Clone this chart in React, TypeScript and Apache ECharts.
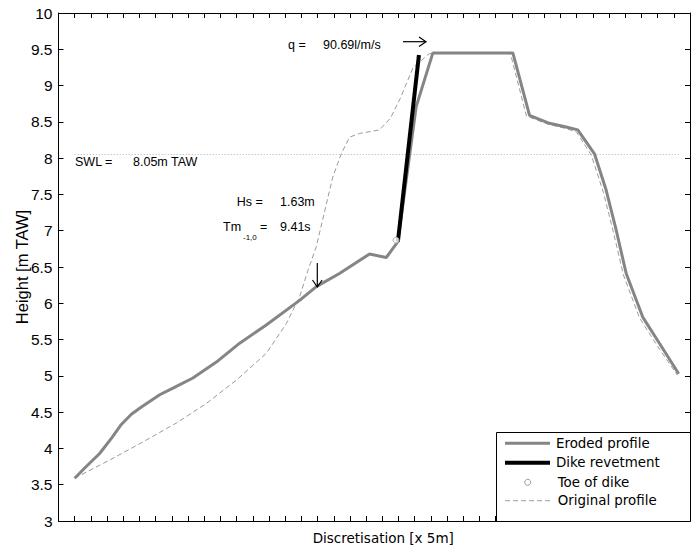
import React, { useEffect, useRef } from "react";
import * as echarts from "echarts";

// Eroded profile [discretisation index, height m TAW]
const erodedProfile: number[][] = [
  [1.0, 3.59], [1.62, 3.73], [2.54, 3.93], [3.3, 4.15], [3.88, 4.33], [4.5, 4.47], [5.12, 4.57],
  [6.25, 4.74], [7.07, 4.83], [8.3, 4.97], [9.75, 5.19], [11.19, 5.45], [12.83, 5.7],
  [14.89, 6.04], [15.92, 6.23], [17.35, 6.41], [19.21, 6.68], [20.24, 6.63], [20.96, 6.85],
  [22.09, 8.71], [23.12, 9.45], [28.06, 9.45], [29.09, 8.59], [30.32, 8.48], [31.35, 8.43],
  [32.07, 8.39], [33.1, 8.06], [33.82, 7.56], [34.44, 7.01], [35.06, 6.41], [36.08, 5.81],
  [37.11, 5.45], [38.3, 5.03],
];

// Original profile
const originalProfile: number[][] = [
  [1.0, 3.59], [3.16, 3.84], [5.22, 4.09], [7.28, 4.35], [9.13, 4.62], [10.98, 4.94],
  [12.83, 5.31], [14.07, 5.72], [14.89, 6.09], [15.4, 6.45], [15.92, 6.78], [16.94, 7.74],
  [17.46, 8.06], [17.98, 8.29], [18.59, 8.34], [19.83, 8.39], [20.5, 8.55], [21.1, 8.82],
  [21.9, 9.25], [22.9, 9.44], [27.91, 9.44], [28.9, 8.58], [30.2, 8.47], [31.31, 8.41],
  [31.99, 8.36], [32.91, 8.04], [33.65, 7.53], [34.27, 6.98], [34.89, 6.39], [35.88, 5.8],
  [36.99, 5.41], [38.22, 5.01],
];

const dikeRevetment: number[][] = [[20.96, 6.85], [22.26, 9.42]];
const toeOfDike: number[][] = [[20.85, 6.87]];

const swlLevel = 8.05;
const swlStartEnd = [1, 38.3];

const xMin = 0;
const xMax = 39;
const xStep = 1;
const yMin = 3;
const yMax = 10;
const yStep = 0.5;

const legendLabels = ["Eroded profile", "Dike revetment", "Toe of dike", "Original profile"];
const swlText = ["SWL =", "8.05m TAW"];
const hsText = ["Hs =", "1.63m"];
const tmText = ["Tm", "-1,0", "=", "9.41s"];
const qText = ["q =", "90.69l/m/s"];

const ANN_FONT = '12.5px "Liberation Sans", Arial, sans-serif';
const LEG_FONT = '13.4px "DejaVu Sans", sans-serif';

function txt(text: string, x: number, y: number, font = ANN_FONT) {
  return {
    type: "text",
    x,
    y,
    z: 100,
    style: { text, font, fill: "#000", textAlign: "left", textVerticalAlign: "middle" },
  };
}

export default function App() {
  const ref = useRef<HTMLDivElement>(null);
  useEffect(() => {
    const chart = echarts.init(ref.current!, null, { renderer: "svg" });
    const axisCommon = {
      type: "value",
      axisLine: { show: true, onZero: false, lineStyle: { color: "#000", width: 1 } },
      axisTick: { show: true, inside: true, length: 5, lineStyle: { color: "#000", width: 1 } },
      splitLine: { show: false },
    };
    const legendX = 496;
    const legendY = 432;
    const rowY = [443.3, 462.7, 482.3, 500.7];
    const option: any = {
      animation: false,
      backgroundColor: "#fff",
      grid: { left: 58.5, right: 5, top: 13, bottom: 28, containLabel: false, outerBoundsMode: "none" },
      xAxis: [
        {
          ...axisCommon,
          position: "bottom",
          min: xMin,
          max: xMax,
          interval: xStep,
          axisLabel: { show: false },
          name: "Discretisation [x 5m]",
          nameLocation: "middle",
          nameGap: 10,
          nameMoveOverlap: false,
          nameTextStyle: {
            fontFamily: "DejaVu Sans",
            fontSize: 13.5,
            color: "#000",
            padding: [0, 0, 0, 18],
          },
        },
        {
          ...axisCommon,
          position: "top",
          min: xMin,
          max: xMax,
          interval: xStep,
          axisLabel: { show: false },
        },
      ],
      yAxis: [
        {
          ...axisCommon,
          position: "left",
          min: yMin,
          max: yMax,
          interval: yStep,
          axisLabel: {
            show: true,
            margin: 6,
            color: "#000",
            fontFamily: "Liberation Sans",
            fontSize: 15.5,
          },
          name: "Height [m TAW]",
          nameLocation: "middle",
          nameGap: 28,
          nameMoveOverlap: false,
          nameTextStyle: { fontFamily: "Liberation Sans", fontSize: 16.5, color: "#000" },
        },
        {
          ...axisCommon,
          position: "right",
          min: yMin,
          max: yMax,
          interval: yStep,
          axisLabel: { show: false },
        },
      ],
      series: [
        {
          name: "SWL",
          type: "line",
          data: [[swlStartEnd[0], swlLevel], [swlStartEnd[1], swlLevel]],
          showSymbol: false,
          lineStyle: { color: "#b0b0b0", width: 1, type: [1, 2] },
          z: 1,
        },
        {
          name: legendLabels[3],
          type: "line",
          data: originalProfile,
          showSymbol: false,
          lineStyle: { color: "#9a9a9a", width: 1, type: [5, 3] },
          z: 2,
        },
        {
          name: legendLabels[0],
          type: "line",
          data: erodedProfile,
          showSymbol: false,
          lineStyle: { color: "#858585", width: 3 },
          z: 3,
        },
        {
          name: legendLabels[1],
          type: "line",
          data: dikeRevetment,
          showSymbol: false,
          lineStyle: { color: "#000", width: 4 },
          z: 4,
        },
        {
          name: legendLabels[2],
          type: "scatter",
          data: toeOfDike,
          symbol: "circle",
          symbolSize: 6,
          itemStyle: { color: "#fff", borderColor: "#999", borderWidth: 1 },
          z: 5,
        },
      ],
      graphic: [
        txt(swlText[0], 75, 161.7),
        txt(swlText[1], 133, 161.7),
        txt(hsText[0], 236.7, 201.7),
        txt(hsText[1], 280, 201.7),
        txt(tmText[0], 223, 226.7),
        txt(tmText[1], 243, 237, '8px "Liberation Sans", Arial, sans-serif'),
        txt(tmText[2], 260, 226.7),
        txt(tmText[3], 280, 226.7),
        txt(qText[0], 288, 45),
        txt(qText[1], 323, 45),
        // q arrow (right)
        {
          type: "polyline",
          z: 100,
          shape: { points: [[403, 41.7], [426, 41.7]] },
          style: { stroke: "#000", lineWidth: 1.2, fill: "none" },
        },
        {
          type: "polyline",
          z: 100,
          shape: { points: [[419, 37], [426, 41.7], [419, 46.4]] },
          style: { stroke: "#000", lineWidth: 1.2, fill: "none" },
        },
        // Hs arrow (down)
        {
          type: "polyline",
          z: 100,
          shape: { points: [[317.3, 263], [317.3, 287]] },
          style: { stroke: "#000", lineWidth: 1.2, fill: "none" },
        },
        {
          type: "polyline",
          z: 100,
          shape: { points: [[312.5, 280], [317.3, 287], [322.1, 280]] },
          style: { stroke: "#000", lineWidth: 1.2, fill: "none" },
        },
        // Legend
        {
          type: "rect",
          z: 90,
          shape: { x: legendX + 0.5, y: legendY + 0.5, width: 690 - legendX, height: 521 - legendY },
          style: { fill: "#fff", stroke: "#000", lineWidth: 1 },
        },
        {
          type: "line",
          z: 100,
          shape: { x1: 505, y1: rowY[0], x2: 550, y2: rowY[0] },
          style: { stroke: "#858585", lineWidth: 3 },
        },
        {
          type: "line",
          z: 100,
          shape: { x1: 505, y1: rowY[1], x2: 550, y2: rowY[1] },
          style: { stroke: "#000", lineWidth: 4 },
        },
        {
          type: "circle",
          z: 100,
          shape: { cx: 527.7, cy: rowY[2], r: 3 },
          style: { fill: "#fff", stroke: "#999", lineWidth: 1 },
        },
        {
          type: "line",
          z: 100,
          shape: { x1: 505, y1: rowY[3], x2: 550, y2: rowY[3] },
          style: { stroke: "#9a9a9a", lineWidth: 1, lineDash: [5, 3] },
        },
        txt(legendLabels[0], 556, rowY[0], LEG_FONT),
        txt(legendLabels[1], 556, rowY[1], LEG_FONT),
        txt(legendLabels[2], 557.7, rowY[2], LEG_FONT),
        txt(legendLabels[3], 557.7, rowY[3], LEG_FONT),
      ],
    };
    chart.setOption(option);
    return () => chart.dispose();
  }, []);
  return (
    <div
      ref={ref}
      style={{ position: "absolute", left: 0, top: 0, width: 695, height: 549, background: "#fff" }}
    />
  );
}
